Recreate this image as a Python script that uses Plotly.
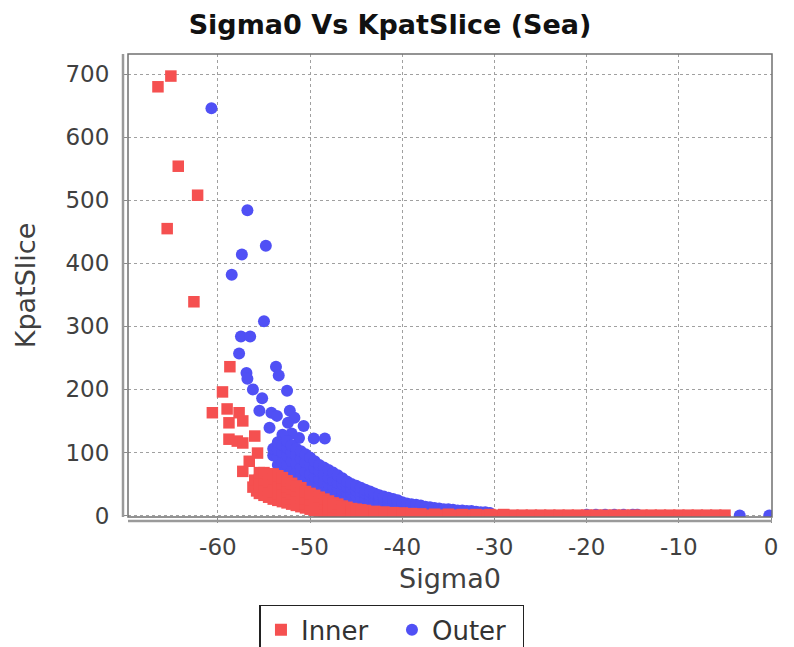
import plotly.graph_objects as go

# ---------------- data ----------------
inner_x = [
    -66.5, -65.1, -64.3, -62.2, -65.5, -62.6, -58.7, -59.5, -60.6, -59.0,
    -57.7, -57.3, -58.8, -56.0, -58.8, -57.9, -57.3, -55.7, -56.6, -57.3, -55.8,
    -56.2, -56.0,
    -55.5, -55.5, -55.5, -55.5,
    -55.0, -55.0, -55.0, -55.0,
    -54.5, -54.5, -54.5, -54.5,
    -54.0, -54.0, -54.0, -54.0, -54.0,
    -53.5, -53.5, -53.5, -53.5, -53.5,
    -53.0, -53.0, -53.0, -53.0, -53.0,
    -52.5, -52.5, -52.5, -52.5, -52.5,
    -52.0, -52.0, -52.0, -52.0, -52.0,
    -51.5, -51.5, -51.5, -51.5, -51.5,
    -51.0, -51.0, -51.0, -51.0, -51.0,
    -50.5, -50.5, -50.5, -50.5,
    -50.0, -50.0, -50.0, -50.0,
    -49.5, -49.5, -49.5, -49.5,
    -49.0, -49.0, -49.0, -49.0,
    -48.5, -48.5, -48.5, -48.5,
    -48.0, -48.0, -48.0, -48.0,
    -47.5, -47.5, -47.5, -47.5,
    -47.0, -47.0, -47.0, -47.0,
    -46.5, -46.5, -46.5,
    -46.0, -46.0, -46.0,
    -45.5, -45.5, -45.5,
    -45.0, -45.0, -45.0,
    -44.5, -44.5, -44.5,
    -44.0, -44.0, -44.0,
    -43.0, -43.0, -43.0,
    -42.0, -42.0, -42.0,
    -41.0, -41.0, -41.0,
    -40.0, -40.0, -40.0,
    -39.0, -39.0,
    -38.0, -37.0, -36.0, -35.0, -34.0, -33.0, -32.0, -31.0, -30.0, -29.0,
    -28.0, -27.0, -26.0, -25.0, -24.0, -23.0, -22.0, -21.0, -20.0, -19.0,
    -18.0, -17.0, -16.0, -15.0, -14.0, -13.0, -12.0, -11.0, -10.0, -9.0,
    -8.0, -7.0, -6.0, -5.0,
    -38.0, -36.5, -35.0, -33.5, -32.0, -30.5, -29.0,
]
inner_y = [
    680, 697, 554, 508, 455, 339, 236, 196, 163, 169,
    163, 150, 147, 126, 121, 118, 70, 99, 86, 115, 39,
    45, 56,
    35, 46, 57, 68,
    32, 44, 56, 68,
    29, 41, 53, 66,
    26, 37, 48, 58, 66,
    24, 34, 44, 54, 63,
    22, 31, 41, 51, 60,
    20, 28, 37, 46, 55,
    18, 26, 34, 42, 51,
    16, 23, 31, 39, 47,
    14, 21, 28, 36, 44,
    12, 19, 27, 38,
    10, 17, 25, 35,
    8, 15, 23, 32,
    7, 13, 21, 29,
    5, 11, 18, 26,
    4, 10, 16, 23,
    3, 8, 14, 20,
    2, 7, 12, 18,
    2, 8, 15,
    1.5, 7, 13,
    1.5, 6, 11,
    1, 5, 10,
    1, 4, 9,
    1, 4, 8,
    1, 3.5, 6.5,
    1, 3, 5.5,
    0.5, 2.5, 4.5,
    0.5, 2, 4,
    0.5, 3,
    0.5, 0.5, 0.5, 0.5, 0.5, 0.5, 0.5, 0.5, 0.5, 0.5,
    0.5, 0.5, 0.5, 0.5, 0.5, 0.5, 0.5, 0.5, 0.5, 0.5,
    0.5, 0.5, 0.5, 0.5, 0.5, 0.5, 0.5, 0.5, 0.5, 0.5,
    0.5, 0.5, 0.5, 0.5,
    2.5, 2, 2, 1.5, 1.5, 1.5, 1.5,
]

outer_x = [
    -60.7, -56.8, -57.4, -54.8, -58.5, -55.0, -57.5, -56.5, -57.7, -53.7,
    -56.9, -56.8, -53.4, -56.2, -52.5, -55.2, -55.5, -54.2, -53.6, -52.2,
    -51.7, -50.7, -52.4, -49.6, -48.4, -52.0, -51.2, -53.0, -54.4,
    -54.0, -54.0,
    -53.5, -53.5, -53.5, -53.5,
    -53.0, -53.0, -53.0, -53.0,
    -52.5, -52.5, -52.5, -52.5, -52.5,
    -52.0, -52.0, -52.0, -52.0, -52.0,
    -51.5, -51.5, -51.5, -51.5, -51.5,
    -51.0, -51.0, -51.0, -51.0, -51.0,
    -50.5, -50.5, -50.5, -50.5, -50.5,
    -50.0, -50.0, -50.0, -50.0, -50.0,
    -49.5, -49.5, -49.5, -49.5, -49.5,
    -49.0, -49.0, -49.0, -49.0, -49.0,
    -48.5, -48.5, -48.5, -48.5, -48.5,
    -48.0, -48.0, -48.0, -48.0, -48.0,
    -47.5, -47.5, -47.5, -47.5, -47.5,
    -47.0, -47.0, -47.0, -47.0, -47.0,
    -46.5, -46.5, -46.5, -46.5, -46.5,
    -46.0, -46.0, -46.0, -46.0, -46.0,
    -45.5, -45.5, -45.5, -45.5, -45.5,
    -45.0, -45.0, -45.0, -45.0, -45.0,
    -44.5, -44.5, -44.5, -44.5, -44.5,
    -44.0, -44.0, -44.0, -44.0, -44.0,
    -43.5, -43.5, -43.5, -43.5, -43.5,
    -43.0, -43.0, -43.0, -43.0, -43.0,
    -42.5, -42.5, -42.5, -42.5, -42.5,
    -42.0, -42.0, -42.0, -42.0, -42.0,
    -41.5, -41.5, -41.5, -41.5, -41.5,
    -41.0, -41.0, -41.0, -41.0, -41.0,
    -40.5, -40.5, -40.5, -40.5, -40.5,
    -40.0, -40.0, -40.0, -40.0,
    -39.5, -39.5, -39.5, -39.5,
    -39.0, -39.0, -39.0, -39.0,
    -38.5, -38.5, -38.5, -38.5,
    -38.0, -38.0, -38.0, -38.0,
    -37.5, -37.5, -37.5, -37.5,
    -37.0, -37.0, -37.0, -37.0,
    -36.5, -36.5, -36.5, -36.5,
    -36.0, -36.0, -36.0, -36.0,
    -35.5, -35.5, -35.5, -35.5,
    -35.0, -35.0, -35.0, -35.0,
    -34.5, -34.5, -34.5, -34.5,
    -34.0, -34.0, -34.0, -34.0,
    -33.5, -33.5, -33.5, -33.5,
    -33.0, -33.0, -33.0, -33.0,
    -32.5, -32.5, -32.5, -32.5,
    -32.0, -32.0, -32.0, -32.0,
    -31.5, -31.5, -31.5,
    -31.0, -31.0, -31.0,
    -30.5, -30.5, -30.5,
    -20.0, -19.0, -18.0, -17.0, -16.0, -15.0, -14.5,
    -3.4, -0.2,
]
outer_y = [
    646, 484, 414, 428, 382, 308, 284, 284, 257, 236,
    226, 217, 222, 200, 198, 186, 166, 163, 158, 166,
    155, 142, 147, 122, 122, 130, 123, 128, 139,
    95, 106,
    80, 92, 104, 116,
    70, 85, 100, 112,
    65, 80, 95, 108, 118,
    60, 72, 86, 100, 111,
    55, 68, 82, 95, 106,
    50, 63, 76, 90, 102,
    45, 58, 70, 84, 97,
    42, 53, 65, 80, 92,
    40, 50, 62, 75, 86,
    36, 46, 58, 70, 80,
    32, 42, 53, 65, 76,
    30, 40, 50, 60, 72,
    28, 37, 46, 56, 68,
    25, 34, 43, 52, 64,
    23, 31, 40, 50, 59,
    21, 29, 37, 45, 54,
    19, 27, 34, 42, 50,
    17, 25, 32, 40, 47,
    15, 22, 30, 38, 44,
    14, 20, 27, 35, 41,
    13, 19, 25, 32, 38,
    12, 17, 23, 30, 35,
    11, 16, 21, 28, 32,
    10, 15, 20, 26, 30,
    9, 14, 19, 24, 28,
    8, 13, 18, 23, 26,
    8, 12, 17, 21, 24,
    7, 11, 16, 21,
    7, 10, 15, 19,
    6, 10, 14, 18,
    6, 9, 13, 17,
    5, 9, 12, 16,
    5, 8, 11, 14,
    5, 8, 10, 13,
    4, 7, 10, 12,
    4, 7, 9, 11,
    4, 6, 8, 10,
    3, 6, 8, 10,
    3, 5, 7, 9,
    3, 5, 7, 8,
    3, 5, 6, 8,
    2, 4, 6, 7,
    2, 4, 6, 7,
    2, 4, 5, 6,
    2, 4, 5,
    2, 3, 5,
    2, 3, 4,
    1.2, 1.2, 1.2, 1.2, 1.2, 1.2, 1.2,
    0, 0,
]

x_tick_vals = [-60, -50, -40, -30, -20, -10, 0]
x_tick_text = ["-60", "-50", "-40", "-30", "-20", "-10", "0"]
y_tick_vals = [0, 100, 200, 300, 400, 500, 600, 700]
y_tick_text = ["0", "100", "200", "300", "400", "500", "600", "700"]

# ---------------- figure ----------------
FONT = "DejaVu Sans"
W, H = 786, 639   # page body has an 8px margin
fig = go.Figure()

# Outer drawn first so Inner sits on top (as in the reference)
fig.add_trace(go.Scatter(
    x=outer_x, y=outer_y, mode="markers", name="Outer",
    marker=dict(symbol="circle", size=12, color="#5050f5", line=dict(width=0)),
))
fig.add_trace(go.Scatter(
    x=inner_x, y=inner_y, mode="markers", name="Inner",
    marker=dict(symbol="square", size=11.5, color="#f55050", line=dict(width=0)),
))

grid = dict(showgrid=True, gridcolor="#a0a0a0", gridwidth=1, griddash="3px,3px",
            zeroline=False, showline=False, automargin=False,
            ticks="outside", ticklen=5, tickcolor="#888888",
            tickfont=dict(family=FONT, size=23, color="#404040"))

fig.update_xaxes(range=[-69.75, 0.1], tickvals=x_tick_vals, ticktext=x_tick_text,
                 ticklabelstandoff=4,
                 title=dict(text="Sigma0", font=dict(family=FONT, size=27, color="#404040"),
                            standoff=10),
                 **grid)
fig.update_yaxes(range=[-2.4, 732], tickvals=y_tick_vals, ticktext=y_tick_text,
                 ticklabelstandoff=8,
                 title=dict(text="KpatSlice", font=dict(family=FONT, size=27, color="#404040"),
                            standoff=22),
                 **grid)

shapes = [
    # plot outline
    dict(type="rect", xref="paper", yref="paper", x0=0, x1=1, y0=0, y1=1,
         line=dict(color="#707070", width=1.5), layer="above"),
    # offset left axis line
    dict(type="line", xref="paper", yref="paper", xsizemode="pixel", xanchor=0,
         x0=-5, x1=-5, y0=0, y1=1, line=dict(color="#9a9a9a", width=2.5), layer="above"),
    # offset bottom axis line
    dict(type="line", xref="paper", yref="paper", ysizemode="pixel", yanchor=0,
         y0=-4, y1=-4, x0=0, x1=1, line=dict(color="#9a9a9a", width=2.5), layer="above"),
]

fig.update_layout(
    width=W, height=H,
    margin=dict(l=120, r=22, t=46, b=130, autoexpand=False),
    paper_bgcolor="white", plot_bgcolor="white",
    title=dict(text="<b>Sigma0 Vs KpatSlice (Sea)</b>", x=0.486, xanchor="center",
               y=0.974, yanchor="middle",
               font=dict(family=FONT, size=27, color="#111111")),
    legend=dict(orientation="h", xref="container", x=0.4885, xanchor="center",
                yref="container", y=0.0658, yanchor="top",
                traceorder="reversed", bordercolor="#222222", borderwidth=1.5,
                font=dict(family=FONT, size=26, color="#333333"),
                itemsizing="constant", itemwidth=30, entrywidth=86,
                bgcolor="white"),
    showlegend=True,
    shapes=shapes,
)

fig.write_html("out.html")
